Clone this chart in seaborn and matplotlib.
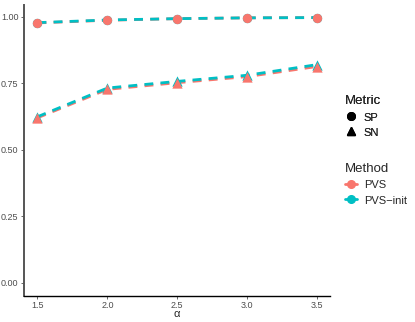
import pandas as pd
import matplotlib
matplotlib.use("Agg")
import matplotlib.pyplot as plt
import seaborn as sns
from matplotlib.lines import Line2D

# values
alpha = [1.5, 2.0, 2.5, 3.0, 3.5]
pvs_sp = [0.977, 0.987, 0.993, 0.996, 0.997]
pvs_init_sp = [0.978, 0.988, 0.993, 0.996, 0.997]
pvs_sn = [0.620, 0.727, 0.752, 0.775, 0.813]
pvs_init_sn = [0.624, 0.732, 0.757, 0.780, 0.820]

rows = []
for meth, sp, sn in [("PVS-init", pvs_init_sp, pvs_init_sn), ("PVS", pvs_sp, pvs_sn)]:
    for a, v in zip(alpha, sp):
        rows.append((meth, "SP", a, v))
    for a, v in zip(alpha, sn):
        rows.append((meth, "SN", a, v))
df = pd.DataFrame(rows, columns=["Method", "Metric", "alpha", "value"])

pal = {"PVS": "#F8766D", "PVS-init": "#00BFC4"}
shapes = {"SP": "o", "SN": "^"}

sns.set_style("white")
plt.rcParams["font.family"] = ["Liberation Sans", "DejaVu Sans"]
fig = plt.figure(figsize=(4.15, 3.22), dpi=100)
ax = fig.add_axes([0.058, 0.081, 0.737, 0.904])

# lines: PVS first, PVS-init on top
for meth in ["PVS", "PVS-init"]:
    sub = df[df["Method"] == meth]
    sns.lineplot(data=sub, x="alpha", y="value", units="Metric", estimator=None,
                 color=pal[meth], lw=2.0, ax=ax, legend=False,
                 linestyle=(0, (3.2, 2.6)))

# points: PVS drawn last
for meth in ["PVS-init", "PVS"]:
    for met in ["SP", "SN"]:
        sub = df[(df["Method"] == meth) & (df["Metric"] == met)]
        sns.scatterplot(data=sub, x="alpha", y="value", color=pal[meth],
                        marker=shapes[met], s=45 if met == "SP" else 55,
                        linewidth=0, ax=ax, legend=False, zorder=3)

ax.set_xlim(1.404, 3.593)
ax.set_ylim(-0.05, 1.045)
ax.set_xticks(alpha)
ax.set_xticklabels(["1.5", "2.0", "2.5", "3.0", "3.5"])
ax.set_yticks([0, 0.25, 0.5, 0.75, 1.0])
ax.set_yticklabels(["0.00", "0.25", "0.50", "0.75", "1.00"])
ax.tick_params(axis="both", labelsize=6.5, colors="#4D4D4D", length=2.5, width=0.6,
               pad=1.5, direction="out", left=True, bottom=True)
ax.set_xlabel("α", fontsize=8, labelpad=-1)
ax.set_ylabel("")
for s in ["top", "right"]:
    ax.spines[s].set_visible(False)
ax.spines["left"].set_color("#555555")
ax.spines["left"].set_linewidth(1.4)
ax.spines["bottom"].set_color("black")
ax.spines["bottom"].set_linewidth(1.0)

# legends
h1 = [Line2D([], [], marker=shapes[m], color="black", lw=0, markersize=5.5) for m in ["SP", "SN"]]
leg1 = fig.legend(h1, ["SP", "SN"], title="Metric", loc="upper left",
                  bbox_to_anchor=(0.807, 0.735), frameon=False, fontsize=8,
                  title_fontsize=9.5, handlelength=1.1, handletextpad=0.6,
                  handleheight=1.2, labelspacing=0.35, alignment="left")
h2 = [Line2D([], [], marker="o", color=pal[m], lw=2, markersize=5.5) for m in ["PVS", "PVS-init"]]
leg2 = fig.legend(h2, ["PVS", "PVS−init"], title="Method", loc="upper left",
                  bbox_to_anchor=(0.807, 0.525), frameon=False, fontsize=8,
                  title_fontsize=9.5, handlelength=1.1, handletextpad=0.6,
                  handleheight=1.2, labelspacing=0.35, alignment="left")
fig.add_artist(leg1)

fig.savefig("out.png", dpi=100)
